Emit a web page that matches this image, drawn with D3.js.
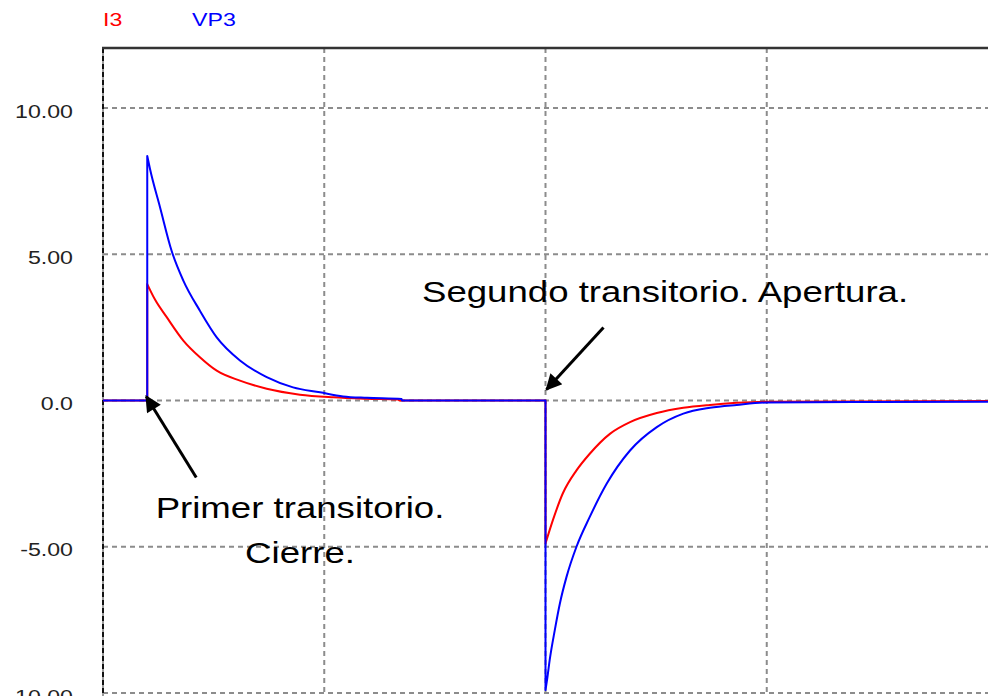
<!DOCTYPE html>
<html>
<head>
<meta charset="utf-8">
<script src="https://cdn.jsdelivr.net/npm/d3@7"></script>
<style>
  html, body { margin: 0; padding: 0; background: #fff; overflow: hidden; }
  svg { display: block; }
</style>
</head>
<body>
<svg id="chart" width="988" height="696"></svg>
<script>
// Series names shown at the top
const seriesNames = ["I3", "VP3"];
const seriesColors = ["#ff0000", "#0000ff"];

// Value axis ticks and their printed labels
const valueTicks = [10, 5, 0, -5, -10];
const valueLabels = ["10.00", "5.00", "0.0", "-5.00", "-10.00"];

// Time grid positions (ms)
const timeTicks = [1, 2, 3];

// I3 : current (red)
const i3Time = [0, 0.2, 0.2, 0.235, 0.288, 0.363, 0.438, 0.514, 0.619, 0.74, 0.89, 1.04, 1.193, 1.333, 1.342,
                2.0, 2.0, 2.033, 2.078, 2.14, 2.2, 2.291, 2.382, 2.503, 2.623, 2.743, 2.864, 3.0, 4.0];
const i3Values = [0, 0, 3.98, 3.45, 2.85, 2.05, 1.48, 1.02, 0.68, 0.40, 0.20, 0.11, 0.06, 0.03, 0,
                  0, -4.89, -4.1, -3.18, -2.39, -1.82, -1.14, -0.74, -0.43, -0.25, -0.15, -0.08, -0.04, -0.02];

// VP3 : voltage (blue)
const vp3Time = [0, 0.2, 0.2, 0.212, 0.258, 0.31, 0.363, 0.438, 0.514, 0.619, 0.74, 0.859, 0.981, 1.085, 1.193, 1.35, 1.351,
                 2.0, 2.0, 2.008, 2.019, 2.042, 2.065, 2.095, 2.14, 2.2, 2.277, 2.382, 2.503, 2.623, 2.743, 2.864, 3.0, 3.5, 4.0];
const vp3Values = [0, 0, 8.36, 7.93, 6.6, 5.12, 4.10, 3.07, 2.16, 1.37, 0.80, 0.45, 0.28, 0.14, 0.09, 0.05, 0,
                   0, -9.9, -9.5, -8.87, -7.85, -6.94, -6.03, -5.0, -3.98, -2.84, -1.71, -0.91, -0.45, -0.25, -0.15, -0.07, -0.05, -0.04];

// Annotations
const annotations = [
  { lines: ["Segundo transitorio. Apertura."], t: 2.0, v: 0 },
  { lines: ["Primer transitorio.", "Cierre."], t: 0.2, v: 0 }
];

const svg = d3.select("#chart");
const W = 988, H = 696;
const STRETCH = 1.22;   // horizontal stretch applied to text
const yMax = 12.05;

const x = d3.scaleLinear().domain([0, 4]).range([103, 988]);
const y = d3.scaleLinear().domain([-10, 10]).range([693, 108]);

svg.append("rect").attr("width", W).attr("height", H).attr("fill", "#fff");

// grid
const grid = svg.append("g");
grid.selectAll("line.h").data(valueTicks).join("line")
  .attr("x1", x(0)).attr("x2", x(4))
  .attr("y1", d => y(d)).attr("y2", d => y(d))
  .attr("stroke", "#8c8c8c").attr("stroke-width", 2).attr("stroke-dasharray", "5,4");
grid.selectAll("line.v").data(timeTicks).join("line")
  .attr("x1", d => x(d)).attr("x2", d => x(d))
  .attr("y1", y(yMax)).attr("y2", H)
  .attr("stroke", "#8c8c8c").attr("stroke-width", 2).attr("stroke-dasharray", "5,4");

// frame: left dashed axis and solid top border
svg.append("line").attr("x1", x(0)).attr("x2", x(0)).attr("y1", y(yMax)).attr("y2", H)
  .attr("stroke", "#9a9a9a").attr("stroke-width", 2);
svg.append("line").attr("x1", x(0)).attr("x2", x(0)).attr("y1", y(yMax)).attr("y2", H)
  .attr("stroke", "#111").attr("stroke-width", 2).attr("stroke-dasharray", "5,3");
svg.append("line").attr("x1", x(0) - 1).attr("x2", W).attr("y1", y(yMax)).attr("y2", y(yMax))
  .attr("stroke", "#333").attr("stroke-width", 2.5);

// value labels
const tickFont = "'Liberation Sans', Arial, sans-serif";
valueTicks.forEach((d, i) => {
  svg.append("g").attr("transform", `translate(73,${y(d) + 9.5}) scale(${STRETCH},1)`)
    .append("text").attr("text-anchor", "end")
    .attr("font-family", tickFont).attr("font-size", 19).attr("fill", "#222")
    .text(valueLabels[i]);
});

// series names
const legendX = [103, 192];
seriesNames.forEach((n, i) => {
  svg.append("g").attr("transform", `translate(${legendX[i]},26) scale(${STRETCH},1)`)
    .append("text").attr("font-family", tickFont).attr("font-size", 19)
    .attr("fill", seriesColors[i]).text(n);
});

// curves: smooth runs between the switching instants, straight vertical jumps
const smooth = d3.line().x(d => x(d[0])).y(d => y(d[1])).curve(d3.curveMonotoneX);
function tracePath(times, values) {
  const pts = times.map((t, k) => [t, values[k]]);
  const runs = [[pts[0]]];
  for (let k = 1; k < pts.length; k++) {
    if (pts[k][0] === pts[k - 1][0]) runs.push([pts[k]]);
    else runs[runs.length - 1].push(pts[k]);
  }
  return runs.map((r, k) => {
    const d = r.length > 1 ? smooth(r) : `M${x(r[0][0])},${y(r[0][1])}`;
    return k === 0 ? d : "L" + d.slice(1);
  }).join("");
}
svg.append("path").attr("d", tracePath(i3Time, i3Values)).attr("fill", "none")
  .attr("stroke", seriesColors[0]).attr("stroke-width", 2).attr("stroke-linejoin", "round");
svg.append("path").attr("d", tracePath(vp3Time, vp3Values)).attr("fill", "none")
  .attr("stroke", seriesColors[1]).attr("stroke-width", 2).attr("stroke-linejoin", "round");

// arrows
const defs = svg.append("defs");
defs.append("marker").attr("id", "head").attr("viewBox", "0 0 10 10")
  .attr("refX", 9).attr("refY", 5).attr("markerWidth", 6).attr("markerHeight", 5.4)
  .attr("markerUnits", "strokeWidth").attr("orient", "auto")
  .append("path").attr("d", "M0,0 L10,5 L0,10 Z").attr("fill", "#000");

function arrow(x1, y1, x2, y2) {
  svg.append("line").attr("x1", x1).attr("y1", y1).attr("x2", x2).attr("y2", y2)
    .attr("stroke", "#000").attr("stroke-width", 3).attr("marker-end", "url(#head)");
}
// opening arrow
arrow(x(2.0) + 58, y(0) - 73, x(2.0) + 1, y(0) - 11);
// closing arrow
arrow(x(0.2) + 49, y(0) + 77, x(0.2) - 1, y(0) - 4);

// annotation texts
const annFont = "'Liberation Sans', Arial, sans-serif";
svg.append("g").attr("transform", `translate(422,301.5) scale(${STRETCH},1)`)
  .append("text").attr("font-family", annFont).attr("font-size", 30).attr("fill", "#000")
  .text(annotations[0].lines[0]);
annotations[1].lines.forEach((l, k) => {
  svg.append("g").attr("transform", `translate(300,${518 + 45 * k}) scale(${STRETCH},1)`)
    .append("text").attr("text-anchor", "middle").attr("font-family", annFont)
    .attr("font-size", 30).attr("fill", "#000").text(l);
});
</script>
</body>
</html>
